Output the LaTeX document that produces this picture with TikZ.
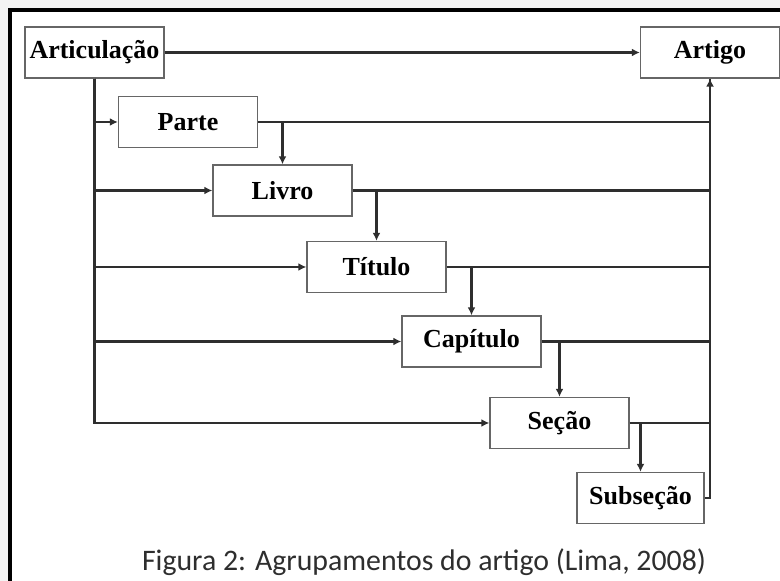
\documentclass[tikz,border=0pt]{standalone}
\usepackage{fontspec}
\setmainfont{Liberation Serif}
\newfontfamily\captionfont{Carlito}
\usetikzlibrary{arrows.meta}

\definecolor{linegray}{HTML}{2E2E2E}
\definecolor{boxgray}{HTML}{666666}
\definecolor{pagegray}{HTML}{F3F3F3}

\begin{document}
\begin{tikzpicture}[x=0.5pt,y=-0.5pt,
    grupo/.style ={rectangle, draw=boxgray, line width=0.7pt, fill=white, inner sep=0pt,
      minimum width=69.5pt, minimum height=25.5pt, font=\fontsize{13}{15}\selectfont\bfseries},
    liga/.style ={draw=linegray, line width=1.1pt},
    seta/.style ={liga, -{Latex[length=4pt,width=4pt]}}]
   \useasboundingbox (0,0) rectangle (780,581);
   \fill[pagegray] (0,0) rectangle (780,581);
   \fill[white] (8,8) rectangle (780,581);
   \draw[line width=1.8pt] (9.8,581) -- (9.8,9.8) -- (780,9.8);
   % caixas
   \node[grupo] (art)  at (94.5,52.5)  {Articulação};
   \node[grupo] (artigo)  at (710,52.5)  {Artigo};
   \node[grupo] (parte)  at (188,122)  {Parte};
   \node[grupo] (livro)  at (282.5,190.5)  {Livro};
   \node[grupo] (titulo)  at (376.5,267)  {Título};
   \node[grupo] (cap)  at (471.5,341.5)  {Capítulo};
   \node[grupo] (secao)  at (559.5,423)  {Seção};
   \node[grupo, minimum width=63.5pt] (subsecao)  at (640.5,498)  {Subseção};
   % ligações
   \draw[seta] (art) to (artigo);
   \draw[seta] (art) |- (parte);
   \draw[seta] (art) |- (livro);
   \draw[seta] (art) |- (titulo);
   \draw[seta] (art) |- (cap);
   \draw[seta] (art) |- (secao);
   \draw[liga] (parte) -| (artigo);
   \draw[liga] (livro) -| (artigo);
   \draw[liga] (titulo) -| (artigo);
   \draw[liga] (cap) -| (artigo);
   \draw[liga] (secao) -| (artigo);
   \draw[seta] (subsecao) -| (artigo);
   \draw[seta] (parte.east -| livro.north) to (livro);
   \draw[seta] (livro.east -| titulo.north) to (titulo);
   \draw[seta] (titulo.east -| cap.north) to (cap);
   \draw[seta] (cap.east -| secao.north) to (secao);
   \draw[seta] (secao.east -| subsecao.north) to (subsecao);
   \node[font=\captionfont\fontsize{14.9}{16}\selectfont, text=linegray] (legenda) at (424,562)
     {Figura 2: Agrupamentos do artigo (Lima, 2008)};
 \end{tikzpicture}
\end{document}
